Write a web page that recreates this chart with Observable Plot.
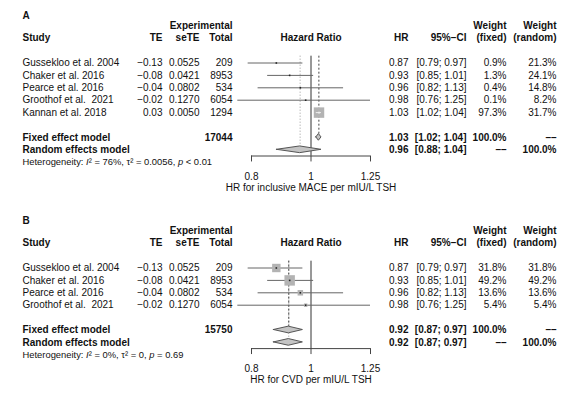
<!DOCTYPE html>
<html><head><meta charset="utf-8">
<script src="https://cdn.jsdelivr.net/npm/d3@7"></script>
<script src="https://cdn.jsdelivr.net/npm/@observablehq/plot@0.6"></script>
<style>
body{margin:0;background:#fff;}
#chart{width:580px;height:397px;overflow:hidden;}
svg{display:block;}
</style></head><body><div id="chart"></div>
<script>
// ---------- data: panel A ----------
const studiesA = ["Gussekloo et al. 2004","Chaker et al. 2016","Pearce et al. 2016","Groothof et al.  2021","Kannan et al. 2018"];
const teA      = [-0.13,-0.08,-0.04,-0.02,0.03];
const seteA    = ["0.0525","0.0421","0.0802","0.1270","0.0050"];
const totalA   = [209,8953,534,6054,1294];
const hrA      = [0.87,0.93,0.96,0.98,1.03];
const lowerA   = [0.79,0.85,0.82,0.76,1.02];
const upperA   = [0.97,1.01,1.13,1.25,1.04];
const wFixedA  = [0.9,1.3,0.4,0.1,97.3];
const wRandomA = [21.3,24.1,14.8,8.2,31.7];
const fixedA   = {hr:1.03, lo:1.02, hi:1.04, total:17044};
const randomA  = {hr:0.96, lo:0.88, hi:1.04};
const hetA     = {i2:"76%", tau2:"0.0056", p:"< 0.01"};
const xTitleA  = "HR for inclusive MACE per mIU/L TSH";

// ---------- data: panel B ----------
const studiesB = ["Gussekloo et al. 2004","Chaker et al. 2016","Pearce et al. 2016","Groothof et al.  2021"];
const teB      = [-0.13,-0.08,-0.04,-0.02];
const seteB    = ["0.0525","0.0421","0.0802","0.1270"];
const totalB   = [209,8953,534,6054];
const hrB      = [0.87,0.93,0.96,0.98];
const lowerB   = [0.79,0.85,0.82,0.76];
const upperB   = [0.97,1.01,1.13,1.25];
const wFixedB  = [31.8,49.2,13.6,5.4];
const wRandomB = [31.8,49.2,13.6,5.4];
const fixedB   = {hr:0.92, lo:0.87, hi:0.97, total:15750};
const randomB  = {hr:0.92, lo:0.87, hi:0.97};
const hetB     = {i2:"0%", tau2:"0", p:"= 0.69"};
const xTitleB  = "HR for CVD per mIU/L TSH";

const axisTicks = [0.8, 1, 1.25];

// ---------- layout constants ----------
const FONT = "'Liberation Sans', Arial, Helvetica, sans-serif";
const xRange = [251, 370];
const pxPerLn = (xRange[1]-xRange[0]) / Math.log(axisTicks[2]/axisTicks[0]);
const RMAX = 5.9;
const DASHES = "\u2013\u2013";

const fmtTE = v => (v < 0 ? "\u2212" : "") + Math.abs(v).toFixed(2);
const fmtCI = (lo, hi) => `[${lo.toFixed(2)}; ${hi.toFixed(2)}]`;
const fmtW = v => v.toFixed(1) + "%";

function panel(cfg) {
  const n = cfg.studies.length;
  const rows = cfg.studies.map((s, i) => ({
    i, study: s, te: cfg.te[i], sete: cfg.sete[i], total: cfg.total[i],
    hr: cfg.hr[i], lo: cfg.lower[i], hi: cfg.upper[i], wf: cfg.wFixed[i], wr: cfg.wRandom[i]
  }));
  const wmax = d3.max(rows, d => d.wf);
  rows.forEach(d => {
    const side = Math.sqrt(Math.PI) * RMAX * Math.sqrt(d.wf / wmax);
    d.inside = (Math.log(d.hi) - Math.log(d.lo)) * pxPerLn < side;
  });
  const pooled = [
    {row: n+1, label: "Fixed effect model", total: String(cfg.fixed.total), hr: cfg.fixed.hr.toFixed(2), ci: fmtCI(cfg.fixed.lo, cfg.fixed.hi), wf: "100.0%", wr: DASHES},
    {row: n+2, label: "Random effects model", total: "", hr: cfg.random.hr.toFixed(2), ci: fmtCI(cfg.random.lo, cfg.random.hi), wf: DASHES, wr: "100.0%"}
  ];
  const h = 0.27;
  const diamonds = [];
  [["fixed", cfg.fixed, n+1], ["random", cfg.random, n+2]].forEach(([m, v, r]) => {
    diamonds.push({m, x: v.lo, y1: r, y2: r});
    diamonds.push({m, x: v.hr, y1: r - h, y2: r + h});
    diamonds.push({m, x: v.hi, y1: r, y2: r});
  });
  const axisRow = n + 2.5;
  const top = -0.55;

  const cols = [
    {dx: 162, a: "end", f: d => fmtTE(d.te)},
    {dx: 199, a: "end", f: d => d.sete},
    {dx: 232, a: "end", f: d => String(d.total)},
    {dx: 408, a: "end", f: d => d.hr.toFixed(2)},
    {dx: 466, a: "end", f: d => fmtCI(d.lo, d.hi)},
    {dx: 506, a: "end", f: d => fmtW(d.wf)},
    {dx: 556, a: "end", f: d => fmtW(d.wr)}
  ];
  const pcols = [
    {dx: 22, a: "start", k: "label"},
    {dx: 232, a: "end", k: "total"},
    {dx: 408, a: "end", k: "hr"},
    {dx: 466, a: "end", k: "ci"},
    {dx: 506, a: "end", k: "wf"},
    {dx: 556, a: "end", k: "wr"}
  ];
  const headers = [
    {t: cfg.letter, dx: 22, a: "start", r: -3.83},
    {t: "Experimental", dx: 232, a: "end", r: -3},
    {t: "Study", dx: 22, a: "start", r: -2},
    {t: "TE", dx: 162, a: "end", r: -2},
    {t: "seTE", dx: 199, a: "end", r: -2},
    {t: "Total", dx: 232, a: "end", r: -2},
    {t: "Hazard Ratio", dx: 310.5, a: "middle", r: -2},
    {t: "HR", dx: 408, a: "end", r: -2},
    {t: "95%\u2212CI", dx: 466, a: "end", r: -2},
    {t: "Weight", dx: 506, a: "end", r: -3},
    {t: "(fixed)", dx: 506, a: "end", r: -2},
    {t: "Weight", dx: 556, a: "end", r: -3},
    {t: "(random)", dx: 556, a: "end", r: -2}
  ];

  const marks = [
    Plot.ruleX([1], {y1: top, y2: axisRow, stroke: "#333", strokeWidth: 1}),
    Plot.ruleX([cfg.random.hr], {y1: top, y2: n + 2 - h, stroke: "#999", strokeWidth: 1, strokeDasharray: "1,2"}),
    Plot.ruleX([cfg.fixed.hr], {y1: top, y2: n + 1 - h, stroke: "#444", strokeWidth: 1, strokeDasharray: "2,2"}),
    Plot.ruleY(rows, {y: "i", x1: "lo", x2: "hi", stroke: "#666", strokeWidth: 1}),
    Plot.dot(rows, {x: d => Math.exp(d.te), y: "i", r: "wf", symbol: "square", fill: "#b3b3b3", stroke: "none"}),
    Plot.ruleY(rows.filter(d => d.inside), {y: "i", x1: "lo", x2: "hi", stroke: "#eee", strokeWidth: 1}),
    Plot.dot(rows, {x: d => Math.exp(d.te), y: "i", r: 0.9, symbol: "square", fill: d => d.inside ? "#eee" : "#222", stroke: "none"}),
    Plot.areaY(diamonds, {x: "x", y1: "y1", y2: "y2", z: "m", fill: "#c4c4c4", stroke: "#555", strokeWidth: 1, curve: "linear"}),
    Plot.ruleY([axisRow], {x1: axisTicks[0], x2: axisTicks[2], stroke: "#444"}),
    Plot.ruleX(axisTicks, {x: d => d, y1: axisRow, y2: axisRow + 0.48, stroke: "#444"}),
    Plot.text(axisTicks, {x: d => d, y: () => n + 4.15, text: d => String(d), fontSize: 10, fill: "#111"}),
    Plot.text([cfg.xTitle], {x: () => 1, y: () => n + 5.05, text: d => d, fontSize: 10, fill: "#111"}),
    Plot.text(rows, {frameAnchor: "left", dx: 22, y: "i", text: "study", textAnchor: "start", fill: "#111"}),
    ...cols.map(c => Plot.text(rows, {frameAnchor: "left", dx: c.dx, y: "i", text: c.f, textAnchor: c.a, fill: "#111"})),
    ...pcols.map(c => Plot.text(pooled, {frameAnchor: "left", dx: c.dx, y: "row", text: c.k, textAnchor: c.a, fontWeight: "bold", fill: "#111"})),
    ...headers.map(hd => Plot.text([hd], {frameAnchor: "left", dx: hd.dx, y: "r", text: "t", textAnchor: hd.a, fontWeight: "bold", fill: "#111"})),
    Plot.text([`Heterogeneity: I\u00b2 = ${cfg.het.i2}, \u03c4\u00b2 = ${cfg.het.tau2}, p ${cfg.het.p}`], {frameAnchor: "left", dx: 22, y: () => n + 3, text: d => d, textAnchor: "start", fontSize: 9.4, fill: "#111"})
  ];

  const svg = Plot.plot({
    width: 580, height: cfg.height,
    marginLeft: 0, marginRight: 0, marginTop: 0, marginBottom: 0,
    x: {type: "log", domain: [axisTicks[0], axisTicks[2]], range: xRange, axis: null},
    y: {type: "linear", domain: [0, 1], range: [62.5, 74.9], axis: null},
    r: {type: "sqrt", domain: [0, wmax], range: [0, RMAX]},
    style: {fontFamily: FONT, fontSize: "10px", background: "#fff", color: "#111"},
    marks
  });
  d3.select(svg).selectAll("text").each(function() {
    const t = this.textContent;
    if (t.startsWith("Heterogeneity")) {
      const m = t.match(/^Heterogeneity: I\u00b2 = (.*), \u03c4\u00b2 = (.*), p (.*)$/);
      if (m) {
        this.textContent = "";
        const parts = [["Heterogeneity: ", 0], ["I", 1], ["\u00b2", 0], [` = ${m[1]}, `, 0], ["\u03c4", 0], ["\u00b2", 0], [` = ${m[2]}, `, 0], ["p", 1], [` ${m[3]}`, 0]];
        parts.forEach(([s, it]) => {
          const ts = document.createElementNS("http://www.w3.org/2000/svg", "tspan");
          ts.textContent = s;
          if (it) ts.setAttribute("font-style", "italic");
          this.appendChild(ts);
        });
      }
    }
  });
  return svg;
}

const chart = document.getElementById("chart");
chart.appendChild(panel({
  letter: "A", height: 205,
  studies: studiesA, te: teA, sete: seteA, total: totalA, hr: hrA, lower: lowerA, upper: upperA,
  wFixed: wFixedA, wRandom: wRandomA, fixed: fixedA, random: randomA, het: hetA, xTitle: xTitleA
}));
chart.appendChild(panel({
  letter: "B", height: 192,
  studies: studiesB, te: teB, sete: seteB, total: totalB, hr: hrB, lower: lowerB, upper: upperB,
  wFixed: wFixedB, wRandom: wRandomB, fixed: fixedB, random: randomB, het: hetB, xTitle: xTitleB
}));
</script>
</body></html>
